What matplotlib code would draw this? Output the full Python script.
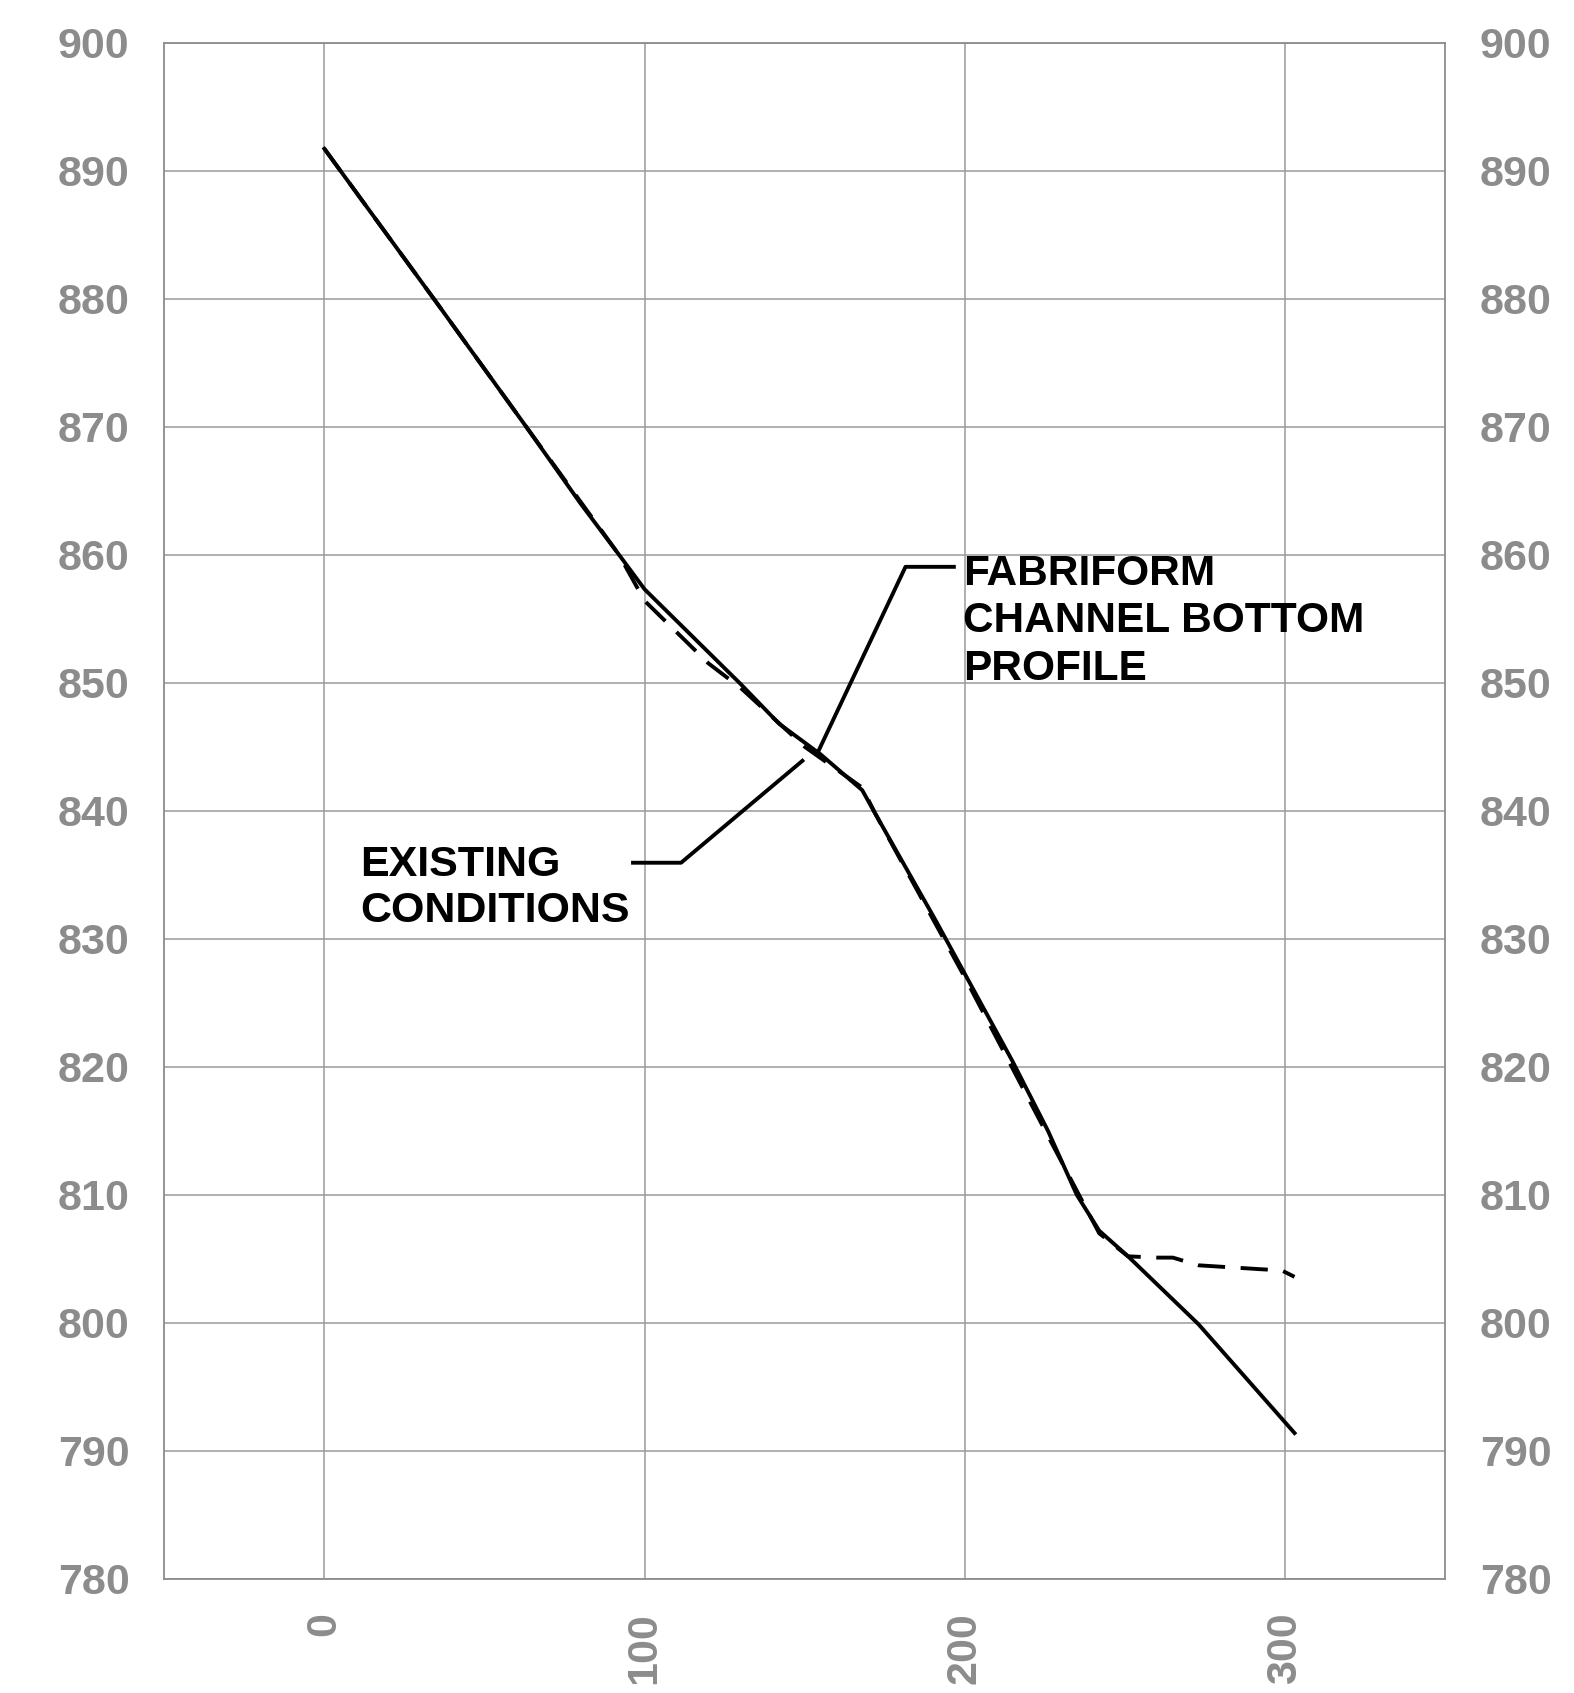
import numpy as np
import matplotlib
matplotlib.use("Agg")
import matplotlib.pyplot as plt

plt.rcParams['font.family'] = ['Liberation Sans', 'DejaVu Sans']

# stationing (ft) vs elevation (ft)
sta_prop = [0, 35, 63, 80, 92, 100, 115, 130, 142, 155, 168, 172, 191, 215, 226, 235, 242, 251, 273, 303]
elev_prop = [891.7, 879.7, 870.0, 864.0, 860.0, 857.3, 853.6, 849.9, 846.8, 844.4, 841.6, 839.8,
             831.4, 820.4, 815.0, 810.0, 807.2, 805.2, 799.9, 791.4]

sta_exist = [0, 35, 63, 92, 100, 120, 130, 150, 168, 172, 200, 226, 242, 251, 260, 265, 273, 292, 299, 303]
elev_exist = [891.7, 879.7, 870.0, 860.0, 856.4, 851.5, 849.6, 845.0, 841.8, 839.8, 827.0, 814.6,
              807.0, 805.2, 805.1, 805.1, 804.5, 804.2, 804.1, 803.6]

xticks = [0, 100, 200, 300]
yticks = list(range(780, 901, 10))

gris = '#8c8c8c'

fig = plt.figure(figsize=(15.74, 16.93), dpi=100)
ax = fig.add_axes([164.3/1574, 1 - 1579/1693, (1445-164.3)/1574, (1579-42.5)/1693])

ax.plot(sta_exist, elev_exist, color='black', lw=2.8, ls=(0, (7, 4)), zorder=3)
ax.plot(sta_prop, elev_prop, color='black', lw=2.8, zorder=4)

# leader lines
ax.plot([196.6, 181.5, 154.0], [859.05, 859.05, 844.5], color='black', lw=2.8, zorder=5)
ax.plot([96.4, 111.4, 149.3], [835.94, 835.94, 843.9], color='black', lw=2.8, zorder=5)

# va='baseline' -> baseline of the last line
ax.text(199.4, 850.2, 'FABRIFORM\nCHANNEL BOTTOM\nPROFILE', fontsize=30.5, fontweight='bold',
        va='baseline', ha='left', linespacing=1.25, zorder=6)
ax.text(11.1, 831.3, 'EXISTING\nCONDITIONS', fontsize=31, fontweight='bold',
        va='baseline', ha='left', linespacing=1.2, zorder=6)

ax.set_xlim(-50, 350)
ax.set_ylim(780, 900)
ax.set_xticks(xticks)
ax.set_yticks(yticks)
ax.grid(True, color='#9a9a9a', lw=1.1)
ax.set_axisbelow(True)
for s in ax.spines.values():
    s.set_color(gris)
    s.set_linewidth(1.3)

ax.tick_params(axis='both', length=0, labelsize=31, labelcolor=gris, pad=24)
ax.tick_params(axis='y', right=True, labelright=True, pad=25)
for lab in ax.get_xticklabels():
    lab.set_rotation(90)
    lab.set_va('top')
for t in ax.xaxis.get_major_ticks() + ax.yaxis.get_major_ticks():
    t.label1.set_fontweight('bold')
    t.label2.set_fontweight('bold')
    t.label2.set_color(gris)

fig.savefig('out.png', dpi=100)
